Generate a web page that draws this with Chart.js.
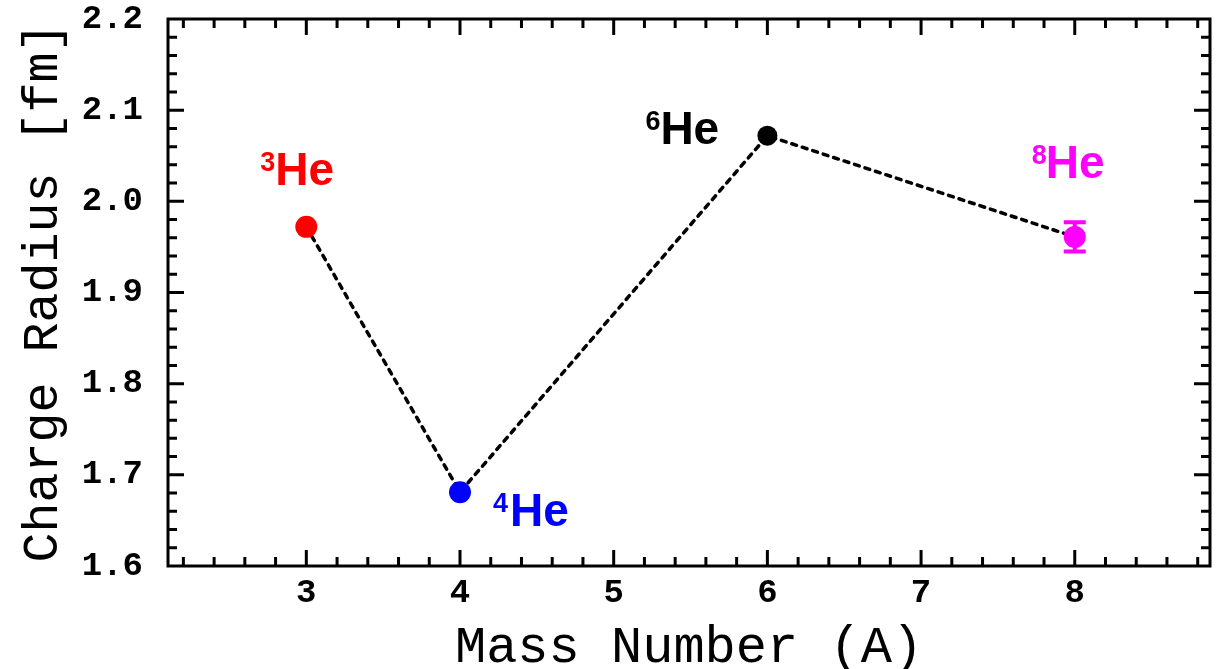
<!DOCTYPE html>
<html>
<head>
<meta charset="utf-8">
<title>Helium charge radius</title>
<script src="https://cdn.jsdelivr.net/npm/chart.js@4.4.0/dist/chart.umd.min.js"></script>
<style>
  html, body { margin: 0; padding: 0; background: #fff; }
  #wrap { width: 1221px; height: 669px; }
</style>
</head>
<body>
<div id="wrap"><canvas id="radius-chart" width="1221" height="669"></canvas></div>
<script>
// values
const massNumbers = [3, 4, 6, 8];
const chargeRadius = [1.972, 1.681, 2.072, 1.961];
const radiusError = [0, 0, 0, 0.016];
const isotopeMass = ['3', '4', '6', '8'];
const isotopeColors = ['#ff0000', '#0000ff', '#000000', '#ff00ff'];
const xTickValues = [3, 4, 5, 6, 7, 8];
const yTickValues = [1.6, 1.7, 1.8, 1.9, 2.0, 2.1, 2.2];

const monoFont = '"Liberation Mono", "Courier New", monospace';

// where each isotope label sits relative to its point: [superscript dx, "He" dx, baseline dy]
const labelOffsets = [[-46, -31, -42], [33, 50, 34], [-122, -107, 8], [-43, -29, -59]];

const frameAndLabels = {
    id: 'frameAndLabels',
    afterDatasetsDraw(chart) {
        const ctx = chart.ctx;
        const area = chart.chartArea;
        const xs = chart.scales.x;
        const ys = chart.scales.y;

        ctx.save();
        ctx.strokeStyle = '#000';
        ctx.lineWidth = 3;
        ctx.strokeRect(area.left, area.top, area.right - area.left, area.bottom - area.top);

        // inward ticks on all four sides
        ctx.beginPath();
        for (let i = 11; i <= 44; i++) {
            const px = xs.getPixelForValue(i / 5);
            const len = i % 5 === 0 ? 16 : 9;
            ctx.moveTo(px, area.bottom);
            ctx.lineTo(px, area.bottom - len);
            ctx.moveTo(px, area.top);
            ctx.lineTo(px, area.top + len);
        }
        for (let i = 81; i < 110; i++) {
            const py = ys.getPixelForValue(i / 50);
            const len = i % 5 === 0 ? 16 : 9;
            ctx.moveTo(area.left, py);
            ctx.lineTo(area.left + len, py);
            ctx.moveTo(area.right, py);
            ctx.lineTo(area.right - len, py);
        }
        ctx.stroke();

        // error bars
        ctx.lineWidth = 4;
        massNumbers.forEach((m, i) => {
            if (!radiusError[i]) return;
            const px = xs.getPixelForValue(m);
            const top = ys.getPixelForValue(chargeRadius[i] + radiusError[i]);
            const bot = ys.getPixelForValue(chargeRadius[i] - radiusError[i]);
            ctx.strokeStyle = isotopeColors[i];
            ctx.beginPath();
            ctx.moveTo(px, top);
            ctx.lineTo(px, bot);
            ctx.moveTo(px - 11, top);
            ctx.lineTo(px + 11, top);
            ctx.moveTo(px - 11, bot);
            ctx.lineTo(px + 11, bot);
            ctx.stroke();
        });

        // isotope labels
        const points = chart.getDatasetMeta(0).data;
        ctx.textBaseline = 'alphabetic';
        ctx.textAlign = 'left';
        points.forEach((pt, i) => {
            const [dxSup, dxHe, dy] = labelOffsets[i];
            ctx.fillStyle = isotopeColors[i];
            ctx.font = 'bold 27px "Liberation Sans", Arial, sans-serif';
            ctx.fillText(isotopeMass[i], pt.x + dxSup, pt.y + dy - 14);
            ctx.font = 'bold 46px "Liberation Sans", Arial, sans-serif';
            ctx.fillText('He', pt.x + dxHe, pt.y + dy);
        });
        ctx.restore();
    }
};

const ctx = document.getElementById('radius-chart').getContext('2d');
new Chart(ctx, {
    type: 'line',
    data: {
        datasets: [{
            label: 'Charge radius',
            data: massNumbers.map((m, i) => ({ x: m, y: chargeRadius[i] })),
            borderColor: '#000',
            borderWidth: 3.5,
            borderDash: [5, 6],
            borderCapStyle: 'round',
            fill: false,
            tension: 0,
            pointRadius: [11, 11, 10, 11],
            pointBackgroundColor: isotopeColors,
            pointBorderColor: isotopeColors,
            pointBorderWidth: 0
        }]
    },
    options: {
        responsive: false,
        animation: false,
        devicePixelRatio: 1,
        layout: { padding: { top: 19, right: 9, left: 0, bottom: 0 } },
        plugins: {
            legend: { display: false },
            tooltip: { enabled: false }
        },
        scales: {
            x: {
                type: 'linear',
                min: 2.1,
                max: 8.88,
                afterBuildTicks: scale => { scale.ticks = xTickValues.map(v => ({ value: v })); },
                afterFit: scale => {
                    scale.height = 103;
                    scale.paddingLeft = 0;
                    scale.paddingRight = 0;
                },
                grid: { display: false, drawTicks: false },
                border: { display: false },
                ticks: {
                    autoSkip: false,
                    maxRotation: 0,
                    padding: 10,
                    color: '#000',
                    font: { family: monoFont, size: 34, weight: 'bold', lineHeight: 1 },
                    callback: v => String(v)
                },
                title: {
                    display: true,
                    text: 'Mass Number (A)',
                    color: '#000',
                    font: { family: monoFont, size: 52, lineHeight: 0.8 },
                    padding: { top: 0, bottom: 0 }
                }
            },
            y: {
                type: 'linear',
                min: 1.6,
                max: 2.2,
                afterBuildTicks: scale => { scale.ticks = yTickValues.map(v => ({ value: v })); },
                afterFit: scale => {
                    scale.width = 168;
                    scale.paddingTop = 0;
                    scale.paddingBottom = 0;
                },
                grid: { display: false, drawTicks: false },
                border: { display: false },
                ticks: {
                    padding: 25,
                    color: '#000',
                    font: { family: monoFont, size: 34, weight: 'bold', lineHeight: 1 },
                    callback: v => v.toFixed(1)
                },
                title: {
                    display: true,
                    text: 'Charge Radius [fm]',
                    color: '#000',
                    font: { family: monoFont, size: 50, lineHeight: 1 },
                    padding: { top: 19, bottom: 0 }
                }
            }
        }
    },
    plugins: [frameAndLabels]
});
</script>
</body>
</html>
